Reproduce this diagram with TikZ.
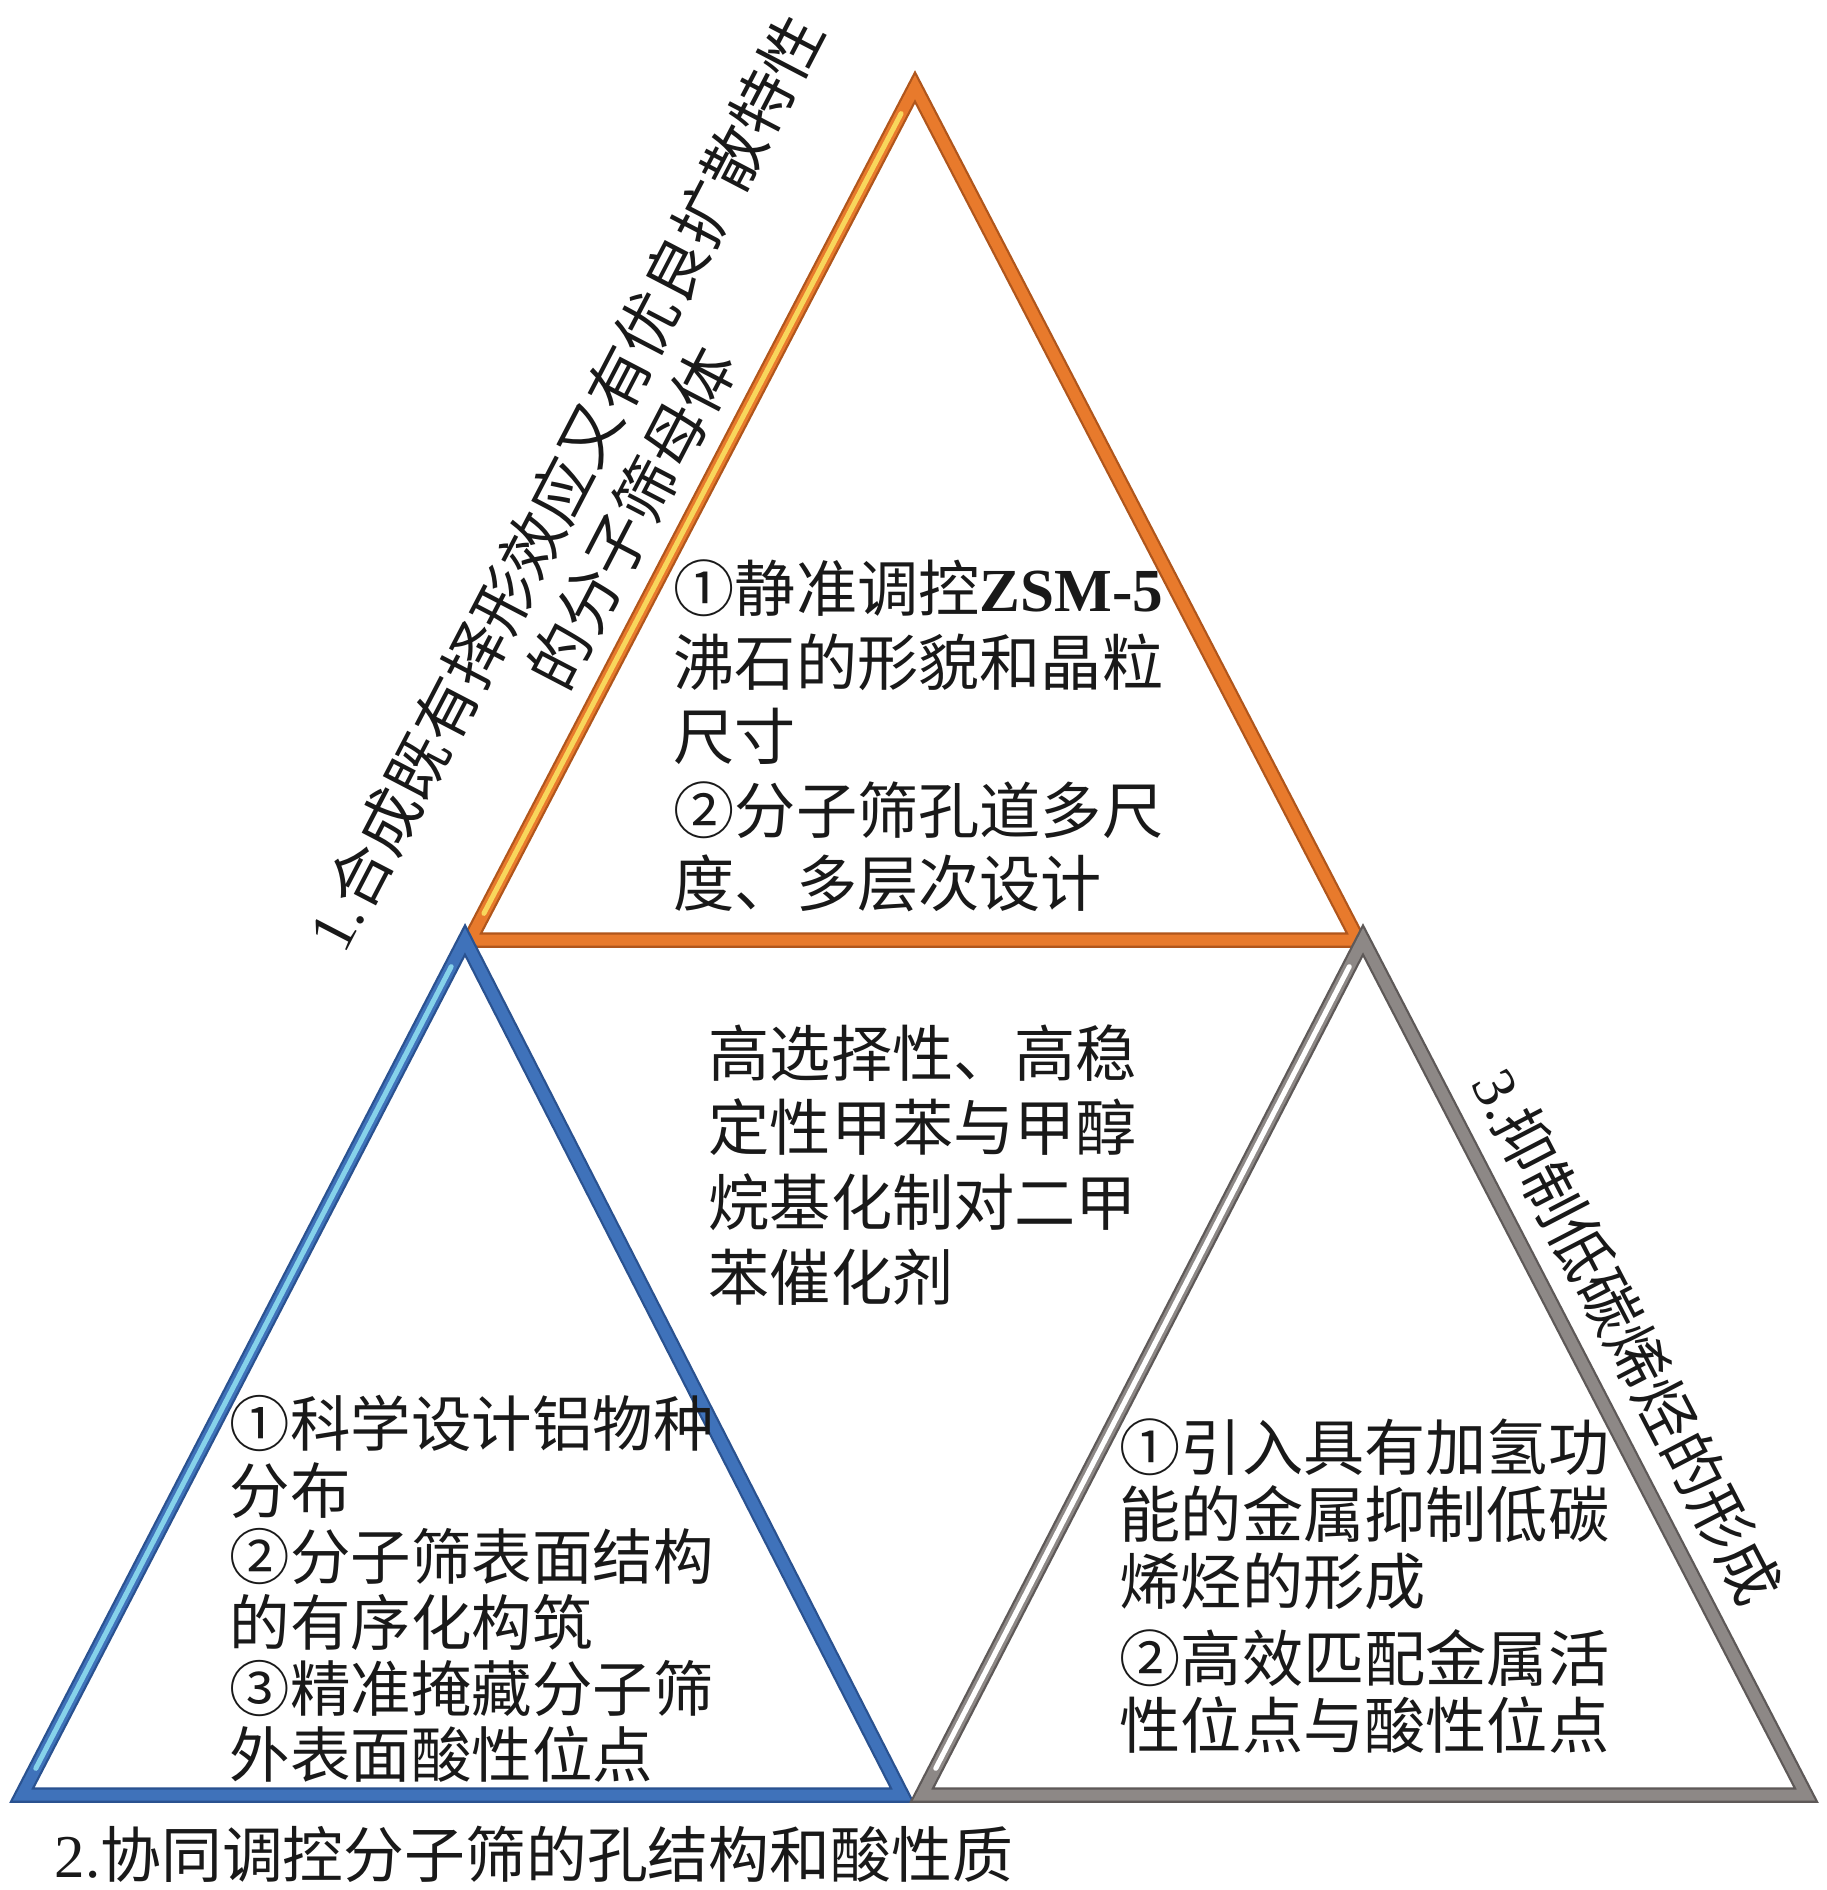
\documentclass[tikz,border=0pt]{standalone}
\usepackage{fontspec}
\setmainfont{Noto Sans CJK SC}
\newfontfamily\latinfont{Liberation Serif}
\usepackage{tikz}

\definecolor{orangeMain}{HTML}{E87A2C}
\definecolor{orangeDark}{HTML}{B0561C}
\definecolor{orangeLight}{HTML}{F8D65C}
\definecolor{blueMain}{HTML}{3F72BA}
\definecolor{blueDark}{HTML}{2A5290}
\definecolor{blueLight}{HTML}{86D2EA}
\definecolor{greyMain}{HTML}{8D8886}
\definecolor{greyDark}{HTML}{5E5958}
\definecolor{greyLight}{HTML}{FFFFFF}

\begin{document}
\begin{tikzpicture}[
    x=0.01cm, y=-0.01cm,
    every node/.style={inner sep=0pt, text=black!90},
    txt/.style={align=left, anchor=west},
    lab/.style={align=center, font=\fontsize{17.3}{21.3}\selectfont},
    rimedge/.style={draw=#1, line width=0.155cm},
    rimcore/.style={draw=#1, line width=0.11cm},
    shine/.style={draw=#1, line width=0.05cm, line cap=round,
                  shorten <=0.3cm, shorten >=0.3cm}
  ]
    \useasboundingbox (0,0) rectangle (1826,1890);

    % corners of the three triangles
    \coordinate (tA) at (915,87);
    \coordinate (tB) at (470,940);
    \coordinate (tC) at (1358,940);
    \coordinate (lA) at (465,940);
    \coordinate (lB) at (22,1795);
    \coordinate (lC) at (902,1795);
    \coordinate (rA) at (1363,940);
    \coordinate (rB) at (922,1795);
    \coordinate (rC) at (1806,1795);

    % top triangle
    \draw[rimedge=orangeDark] (tA) -- (tB) -- (tC) -- cycle;
    \draw[rimcore=orangeMain] (tA) -- (tB) -- (tC) -- cycle;
    \draw[shine=orangeLight, shift={(3.5,1.8)}] (tB) -- (tA);

    % left triangle
    \draw[rimedge=blueDark] (lA) -- (lB) -- (lC) -- cycle;
    \draw[rimcore=blueMain] (lA) -- (lB) -- (lC) -- cycle;
    \draw[shine=blueLight, shift={(3.5,1.8)}] (lB) -- (lA);

    % right triangle
    \draw[rimedge=greyDark] (rA) -- (rB) -- (rC) -- cycle;
    \draw[rimcore=greyMain] (rA) -- (rB) -- (rC) -- cycle;
    \draw[shine=greyLight, shift={(3.5,1.8)}] (rB) -- (rA);

    % texts inside
    \node[txt, font=\fontsize{17.4}{21}\selectfont] (shape) at (673,736)
      {①静准调控{\latinfont\bfseries ZSM-5}\\沸石的形貌和晶粒\\尺寸\\%
       ②分子筛孔道多尺\\度、多层次设计};
    \node[txt, font=\fontsize{17.4}{21.3}\selectfont] (goal) at (708,1165)
      {高选择性、高稳\\定性甲苯与甲醇\\烷基化制对二甲\\苯催化剂};
    \node[txt, font=\fontsize{17.2}{18.8}\selectfont] (acid) at (229,1589)
      {①科学设计铝物种\\分布\\②分子筛表面结构\\的有序化构筑\\%
       ③精准掩藏分子筛\\外表面酸性位点};
    \node[txt, font=\fontsize{17.4}{19.1}\selectfont] (metal) at (1119,1586)
      {①引入具有加氢功\\能的金属抑制低碳\\烯烃的形成\\[0.09cm]%
       ②高效匹配金属活\\性位点与酸性位点};

    % labels along the sides
    \node[lab, rotate=62.5, font=\fontsize{17.7}{21.5}\selectfont] (side1)
      at (598,500)
      {{\latinfont 1.}合成既有择形效应又有优良扩散特性\\的分子筛母体};
    \node[lab, anchor=west] (side2) at (54,1854)
      {{\latinfont 2.}协同调控分子筛的孔结构和酸性质};
    \node[lab, rotate=-62.6] (side3) at (1627,1336)
      {{\latinfont 3.}抑制低碳烯烃的形成};
\end{tikzpicture}
\end{document}
